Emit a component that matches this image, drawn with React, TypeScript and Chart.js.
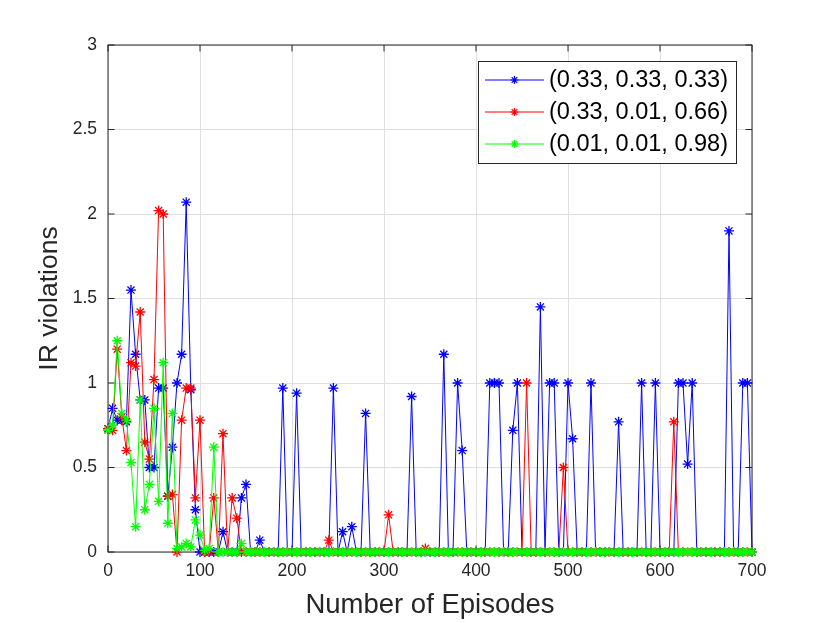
import { useEffect, useRef } from "react"
import { Chart, registerables } from "chart.js"

Chart.register(...registerables)

// x positions (episodes), one every 5
const episodes = [
  0, 5, 10, 15, 20, 25, 30, 35, 40, 45, 50, 55, 60, 65, 70, 75, 80, 85, 90, 95,
  100, 105, 110, 115, 120, 125, 130, 135, 140, 145, 150, 155, 160, 165, 170, 175, 180, 185, 190, 195,
  200, 205, 210, 215, 220, 225, 230, 235, 240, 245, 250, 255, 260, 265, 270, 275, 280, 285, 290, 295,
  300, 305, 310, 315, 320, 325, 330, 335, 340, 345, 350, 355, 360, 365, 370, 375, 380, 385, 390, 395,
  400, 405, 410, 415, 420, 425, 430, 435, 440, 445, 450, 455, 460, 465, 470, 475, 480, 485, 490, 495,
  500, 505, 510, 515, 520, 525, 530, 535, 540, 545, 550, 555, 560, 565, 570, 575, 580, 585, 590, 595,
  600, 605, 610, 615, 620, 625, 630, 635, 640, 645, 650, 655, 660, 665, 670, 675, 680, 685, 690, 695,
  700,
]

const blueValues = [
  0.73, 0.85, 0.78, 0.78, 0.77, 1.55, 1.17, 0.9, 0.9, 0.5, 0.5, 0.97, 0.97, 0.33, 0.62, 1.0, 1.17, 2.07, 0.96, 0.25,
  0, 0, 0, 0, 0, 0.12, 0, 0, 0, 0.32, 0.4, 0, 0, 0.07, 0, 0, 0, 0, 0.97, 0,
  0, 0.94, 0, 0, 0, 0, 0, 0, 0, 0.97, 0, 0.12, 0, 0.15, 0, 0, 0.82, 0, 0, 0,
  0, 0, 0, 0, 0, 0, 0.92, 0, 0, 0, 0, 0, 0, 1.17, 0, 0, 1.0, 0.6, 0, 0,
  0, 0, 0, 1.0, 1.0, 1.0, 0, 0, 0.72, 1.0, 0, 0, 0, 0, 1.45, 0, 1.0, 1.0, 0, 0,
  1.0, 0.67, 0, 0, 0, 1.0, 0, 0, 0, 0, 0, 0.77, 0, 0, 0, 0, 1.0, 0, 0, 1.0,
  0, 0, 0, 0, 1.0, 1.0, 0.52, 1.0, 0, 0, 0, 0, 0, 0, 0, 1.9, 0, 0, 1.0, 1.0,
  0,
]

const redValues = [
  0.73, 0.72, 1.2, 0.8, 0.6, 1.12, 1.1, 1.42, 0.65, 0.55, 1.02, 2.02, 2.0, 0.33, 0.34, 0, 0.78, 0.97, 0.97, 0.32,
  0.78, 0, 0, 0.32, 0, 0.7, 0, 0.32, 0.2, 0, 0, 0, 0, 0, 0, 0, 0, 0, 0, 0,
  0, 0, 0, 0, 0, 0, 0, 0, 0.07, 0, 0, 0, 0, 0, 0, 0, 0, 0, 0, 0,
  0, 0.22, 0, 0, 0, 0, 0, 0, 0, 0.02, 0, 0, 0, 0, 0, 0, 0, 0, 0, 0,
  0, 0, 0, 0, 0, 0, 0, 0, 0, 0, 0, 1.0, 0, 0, 0, 0, 0, 0, 0, 0.5,
  0, 0, 0, 0, 0, 0, 0, 0, 0, 0, 0, 0, 0, 0, 0, 0, 0, 0, 0, 0,
  0, 0, 0, 0.77, 0, 0, 0, 0, 0, 0, 0, 0, 0, 0, 0, 0, 0, 0, 0, 0,
  0,
]

const greenValues = [
  0.72, 0.75, 1.25, 0.82, 0.78, 0.53, 0.15, 0.9, 0.25, 0.4, 0.85, 0.3, 1.12, 0.17, 0.82, 0.02, 0.03, 0.05, 0.03, 0.19,
  0.1, 0.01, 0.02, 0.62, 0, 0, 0, 0, 0, 0.05, 0, 0, 0, 0, 0, 0, 0, 0, 0, 0,
  0, 0, 0, 0, 0, 0, 0, 0, 0, 0, 0, 0, 0, 0, 0, 0, 0, 0, 0, 0,
  0, 0, 0, 0, 0, 0, 0, 0, 0, 0, 0, 0, 0, 0, 0, 0, 0, 0, 0, 0,
  0, 0, 0, 0, 0, 0, 0, 0, 0, 0, 0, 0, 0, 0, 0, 0, 0, 0, 0, 0,
  0, 0, 0, 0, 0, 0, 0, 0, 0, 0, 0, 0, 0, 0, 0, 0, 0, 0, 0, 0,
  0, 0, 0, 0, 0, 0, 0, 0, 0, 0, 0, 0, 0, 0, 0, 0, 0, 0, 0, 0,
  0,
]

const seriesLabels = ["(0.33, 0.33, 0.33)", "(0.33, 0.01, 0.66)", "(0.01, 0.01, 0.98)"]
const seriesColors = ["#0000ff", "#ff0000", "#00ff00"]

const xTicks = [0, 100, 200, 300, 400, 500, 600, 700]
const yTicks = [0, 0.5, 1, 1.5, 2, 2.5, 3]

const FONT = "'Liberation Sans', Arial, Helvetica, sans-serif"
const AXIS_COLOR = "#262626"

function drawStar(ctx: CanvasRenderingContext2D, x: number, y: number, r: number) {
  const d = r * Math.SQRT1_2
  ctx.beginPath()
  ctx.moveTo(x - r, y)
  ctx.lineTo(x + r, y)
  ctx.moveTo(x, y - r)
  ctx.lineTo(x, y + r)
  ctx.moveTo(x - d, y - d)
  ctx.lineTo(x + d, y + d)
  ctx.moveTo(x - d, y + d)
  ctx.lineTo(x + d, y - d)
  ctx.stroke()
}

// box around the axes plus inward tick marks on all four sides
const matlabBox = {
  id: "matlabBox",
  beforeDatasetsDraw(chart: any) {
    const { ctx, chartArea } = chart
    const { left, right, top, bottom } = chartArea
    const xs = chart.scales.x
    const ys = chart.scales.y
    const tl = 6.5
    ctx.save()
    ctx.strokeStyle = AXIS_COLOR
    ctx.lineWidth = 1
    ctx.strokeRect(left, top, right - left, bottom - top)
    ctx.beginPath()
    xTicks.forEach((v) => {
      const px = xs.getPixelForValue(v)
      ctx.moveTo(px, bottom)
      ctx.lineTo(px, bottom - tl)
      ctx.moveTo(px, top)
      ctx.lineTo(px, top + tl)
    })
    yTicks.forEach((v) => {
      const py = ys.getPixelForValue(v)
      ctx.moveTo(left, py)
      ctx.lineTo(left + tl, py)
      ctx.moveTo(right, py)
      ctx.lineTo(right - tl, py)
    })
    ctx.stroke()
    ctx.restore()
  },
}

const boxLegend = {
  id: "boxLegend",
  afterDraw(chart: any) {
    const { ctx } = chart
    const bx = 478.5
    const by = 61.5
    const bw = 258
    const bh = 102
    ctx.save()
    ctx.fillStyle = "#ffffff"
    ctx.fillRect(bx, by, bw, bh)
    ctx.strokeStyle = AXIS_COLOR
    ctx.lineWidth = 1
    ctx.strokeRect(bx, by, bw, bh)
    seriesLabels.forEach((label, i) => {
      const y = 80 + i * 32
      ctx.strokeStyle = seriesColors[i]
      ctx.lineWidth = 1
      ctx.beginPath()
      ctx.moveTo(485, y)
      ctx.lineTo(544, y)
      ctx.stroke()
      ctx.lineWidth = 1.2
      drawStar(ctx, 514.5, y, 4)
      ctx.fillStyle = "#000000"
      ctx.font = `23.5px ${FONT}`
      ctx.textBaseline = "middle"
      ctx.textAlign = "left"
      ctx.fillText(label, 549, y + 1)
    })
    ctx.restore()
  },
}

function IRViolationsChart() {
  const chartRef = useRef<HTMLCanvasElement>(null)
  const chartInstance = useRef<Chart | null>(null)

  useEffect(() => {
    if (!chartRef.current) return
    if (chartInstance.current) chartInstance.current.destroy()
    const ctx = chartRef.current.getContext("2d")
    if (!ctx) return

    const allValues = [blueValues, redValues, greenValues]

    chartInstance.current = new Chart(ctx, {
      type: "line",
      data: {
        datasets: allValues.map((vals, i) => ({
          label: seriesLabels[i],
          data: episodes.map((x, j) => ({ x, y: vals[j] })),
          borderColor: seriesColors[i],
          backgroundColor: seriesColors[i],
          borderWidth: 1,
          pointStyle: "star",
          pointRadius: 5,
          pointBorderWidth: 1.3,
          pointBorderColor: seriesColors[i],
          tension: 0,
          fill: false,
          clip: false as any,
          order: 3 - i,
        })),
      },
      options: {
        animation: false,
        responsive: true,
        maintainAspectRatio: false,
        layout: { padding: { left: 0, right: 78, top: 45, bottom: 0 } },
        plugins: {
          legend: { display: false },
          tooltip: { enabled: false },
        },
        scales: {
          x: {
            type: "linear",
            min: 0,
            max: 700,
            afterFit(scale: any) {
              scale.height = 71
            },
            afterBuildTicks(scale: any) {
              scale.ticks = xTicks.map((v) => ({ value: v }))
            },
            grid: { color: "#dfdfdf", lineWidth: 1, drawTicks: false },
            border: { display: false },
            ticks: {
              color: AXIS_COLOR,
              font: { family: FONT, size: 17.5 },
              padding: 9,
              maxRotation: 0,
            },
            title: {
              display: true,
              text: "Number of Episodes",
              color: AXIS_COLOR,
              font: { family: FONT, size: 27.5 },
              padding: { top: 0, bottom: 1 },
            },
          },
          y: {
            type: "linear",
            min: 0,
            max: 3,
            afterFit(scale: any) {
              scale.width = 108
            },
            afterBuildTicks(scale: any) {
              scale.ticks = yTicks.map((v) => ({ value: v }))
            },
            grid: { color: "#dfdfdf", lineWidth: 1, drawTicks: false },
            border: { display: false },
            ticks: {
              color: AXIS_COLOR,
              font: { family: FONT, size: 17.5 },
              padding: 11,
              callback: (v: any) => String(v),
            },
            title: {
              display: true,
              text: "IR violations",
              color: AXIS_COLOR,
              font: { family: FONT, size: 26.5 },
              padding: { top: 34, bottom: 0 },
            },
          },
        },
      },
      plugins: [matlabBox, boxLegend],
    })

    return () => {
      if (chartInstance.current) {
        chartInstance.current.destroy()
        chartInstance.current = null
      }
    }
  }, [])

  return (
    <div style={{ position: "absolute", left: 0, top: 0, width: 830, height: 623, background: "#ffffff" }}>
      <canvas ref={chartRef} />
    </div>
  )
}

export default function App() {
  return <IRViolationsChart />
}
